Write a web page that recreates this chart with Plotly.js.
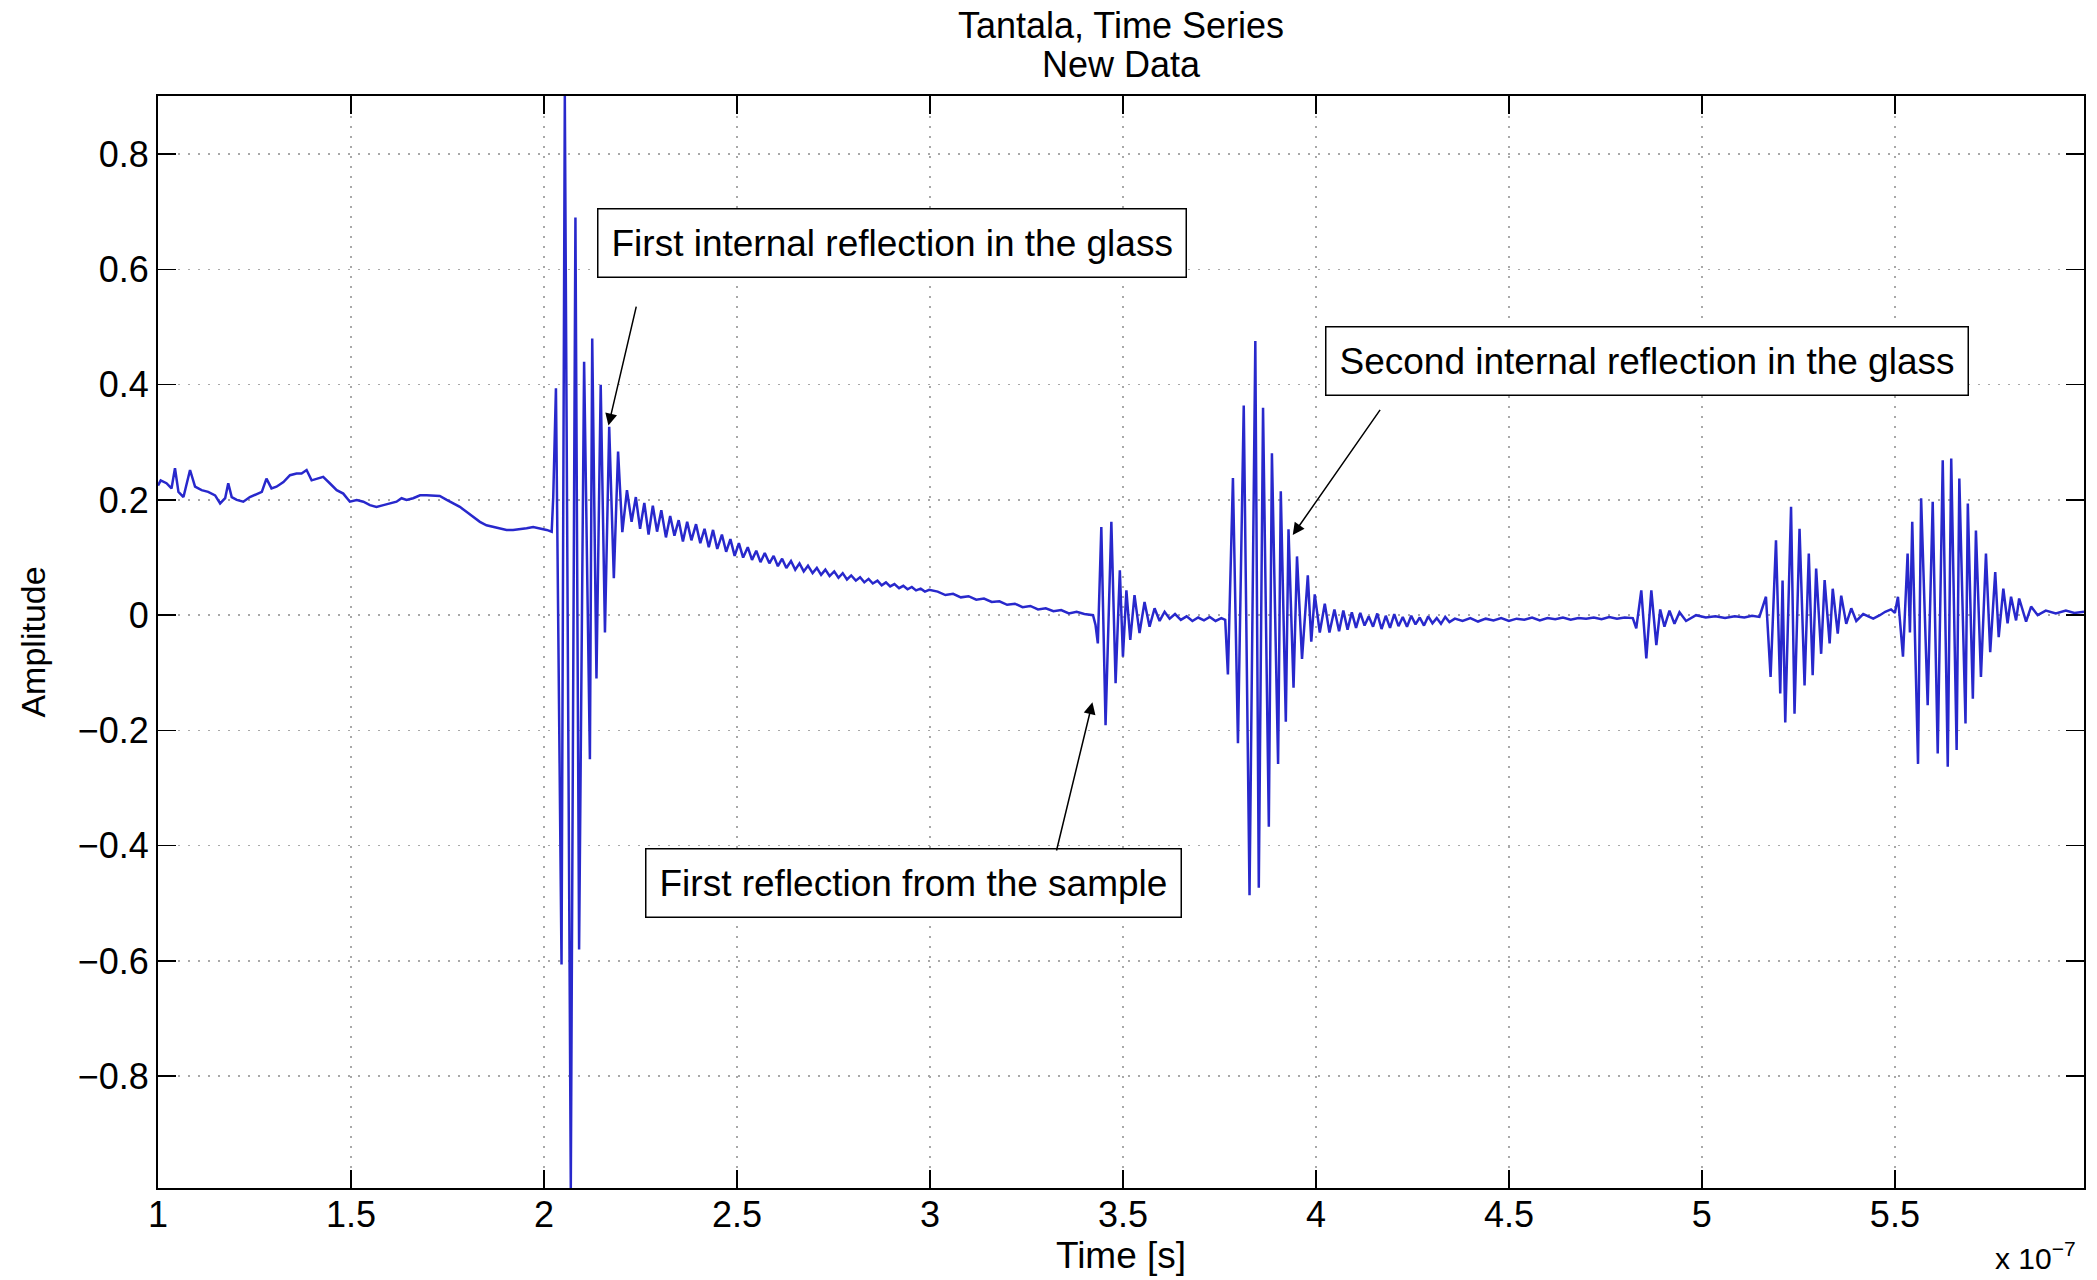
<!DOCTYPE html>
<html><head><meta charset="utf-8">
<script src="https://cdn.plot.ly/plotly-3.0.1.min.js"></script>
<style>html,body{margin:0;padding:0;background:#fff}#chart{width:2097px;height:1280px}</style>
</head><body><div id="chart"></div>
<script>
// time in units of 1e-7 s, amplitude
const driftT = [1.000,1.007,1.022,1.035,1.044,1.053,1.066,1.083,1.096,1.113,1.130,1.148,1.161,1.174,1.182,1.191,1.204,1.221,1.238,1.256,1.269,1.281,1.294,1.307,1.325,1.342,1.359,1.372,1.385,1.398,1.411,1.428,1.445,1.463,1.480,1.497,1.515,1.532,1.549,1.566,1.584,1.601,1.618,1.631,1.644,1.661,1.679,1.696,1.713,1.730,1.748,1.765,1.782,1.800,1.817,1.834,1.851,1.868,1.886,1.903,1.920,1.938,1.955,1.972,1.989,2.007,2.020];
const driftA = [0.225,0.234,0.229,0.220,0.255,0.214,0.205,0.252,0.223,0.217,0.214,0.208,0.194,0.203,0.229,0.205,0.200,0.197,0.205,0.211,0.214,0.237,0.220,0.223,0.231,0.243,0.246,0.246,0.252,0.234,0.237,0.240,0.229,0.217,0.211,0.197,0.200,0.197,0.191,0.188,0.191,0.194,0.197,0.203,0.200,0.203,0.208,0.208,0.208,0.207,0.200,0.194,0.188,0.179,0.171,0.162,0.156,0.153,0.151,0.148,0.148,0.149,0.151,0.153,0.151,0.148,0.145];

const glass1T = [2.024,2.031,2.0455,2.054,2.0695,2.0815,2.091,2.104,2.119,2.125,2.136,2.147,2.158,2.169,2.181,2.192,2.203,2.215,2.227];
const glass1A = [0.205,0.394,-0.606,0.901,-0.994,0.690,-0.580,0.440,-0.250,0.480,-0.110,0.400,-0.030,0.327,0.064,0.284,0.144,0.217,0.162];

const tailT = [2.238,2.249,2.260,2.271,2.282,2.293,2.304,2.316,2.327,2.338,2.349,2.360,2.371,2.382,2.394,2.405,2.416,2.427,2.438,2.449,2.461,2.472,2.483,2.494,2.505,2.516,2.528,2.539,2.550,2.561,2.572,2.584,2.595,2.606,2.617,2.628,2.640,2.651,2.662,2.673,2.684,2.696,2.707,2.718,2.729,2.740,2.752,2.763,2.774,2.785,2.796,2.808,2.819,2.830,2.841,2.852,2.864,2.875,2.886,2.897,2.908,2.920,2.931,2.942,2.953,2.964,2.976,2.987,2.998,3.02,3.04,3.06,3.08,3.10,3.12,3.14,3.16,3.18,3.20,3.22,3.24,3.26,3.28,3.30,3.32,3.34,3.36,3.38,3.40];
const tailA = [0.205,0.150,0.195,0.140,0.190,0.145,0.182,0.135,0.172,0.138,0.165,0.128,0.162,0.130,0.158,0.125,0.150,0.118,0.148,0.115,0.140,0.110,0.132,0.103,0.125,0.100,0.118,0.096,0.112,0.092,0.108,0.090,0.103,0.085,0.098,0.082,0.094,0.079,0.090,0.076,0.086,0.073,0.082,0.070,0.079,0.068,0.076,0.065,0.073,0.062,0.069,0.060,0.066,0.057,0.063,0.055,0.060,0.052,0.057,0.050,0.054,0.047,0.051,0.045,0.049,0.043,0.046,0.041,0.044,0.041,0.035,0.037,0.031,0.033,0.027,0.029,0.023,0.024,0.018,0.020,0.014,0.016,0.010,0.012,0.007,0.009,0.003,0.006,0.002];

const sampleT = [3.4225,3.429,3.435,3.444,3.455,3.470,3.481,3.492,3.500,3.509,3.519,3.530,3.543,3.556,3.569,3.582,3.595,3.608,3.621];
const sampleA = [0.000,-0.017,-0.049,0.153,-0.191,0.162,-0.118,0.078,-0.072,0.043,-0.043,0.035,-0.031,0.023,-0.020,0.012,-0.010,0.006,-0.006];

const gap1T = [3.635,3.650,3.665,3.680,3.695,3.710,3.725,3.740,3.755,3.765];
const gap1A = [0.002,-0.008,-0.002,-0.010,-0.004,-0.009,-0.003,-0.010,-0.005,-0.008];

const glass2T = [3.772,3.785,3.798,3.813,3.828,3.843,3.852,3.863,3.878,3.886,3.902,3.909,3.922,3.929,3.942,3.951,3.964,3.979,3.988,3.997,4.010,4.023,4.035,4.048];
const glass2A = [-0.103,0.238,-0.222,0.364,-0.486,0.476,-0.473,0.360,-0.367,0.281,-0.258,0.215,-0.185,0.149,-0.126,0.102,-0.076,0.069,-0.046,0.036,-0.030,0.020,-0.030,0.010];

const gap2T = [4.060,4.071,4.082,4.093,4.104,4.115,4.126,4.137,4.148,4.159,4.170,4.181,4.192,4.203,4.214,4.225,4.236,4.247,4.258,4.269,4.280,4.291,4.302,4.313,4.324,4.335,4.346,4.36,4.38,4.40,4.42,4.44,4.46,4.48,4.50,4.52,4.54,4.56,4.58,4.60,4.62,4.64,4.66,4.68,4.70,4.72,4.74,4.76,4.78,4.80,4.821];
const gap2A = [-0.028,0.008,-0.025,0.005,-0.022,0.004,-0.018,-0.002,-0.020,0.003,-0.024,-0.001,-0.022,0.002,-0.019,-0.003,-0.020,-0.001,-0.016,-0.004,-0.018,-0.002,-0.014,-0.005,-0.015,-0.003,-0.012,-0.006,-0.010,-0.005,-0.011,-0.006,-0.009,-0.005,-0.010,-0.006,-0.008,-0.004,-0.009,-0.005,-0.007,-0.004,-0.008,-0.005,-0.006,-0.004,-0.007,-0.003,-0.006,-0.004,-0.005];

const echo1T = [4.830,4.843,4.856,4.869,4.882,4.892,4.903,4.916,4.929,4.942,4.959,4.985,5.010,5.035,5.060,5.085,5.110,5.130,5.149];
const echo1A = [-0.023,0.043,-0.075,0.043,-0.052,0.010,-0.020,0.008,-0.015,0.005,-0.010,0.000,-0.004,-0.002,-0.005,-0.002,-0.004,-0.001,-0.003];

const echo2T = [5.166,5.178,5.192,5.203,5.209,5.216,5.231,5.240,5.253,5.266,5.277,5.287,5.296,5.309,5.318,5.331,5.339,5.352,5.361,5.374,5.387,5.400,5.418,5.444,5.461];
const echo2A = [0.032,-0.107,0.130,-0.136,0.060,-0.186,0.188,-0.171,0.150,-0.122,0.107,-0.104,0.081,-0.067,0.061,-0.049,0.046,-0.032,0.034,-0.015,0.012,-0.010,0.002,-0.006,0.000];

const echo3T = [5.475,5.490,5.500,5.508,5.521,5.533,5.539,5.545,5.560,5.568,5.585,5.598,5.611,5.624,5.637,5.646,5.660,5.667,5.683,5.689,5.702,5.710,5.723,5.736,5.747,5.760,5.769,5.781,5.792,5.801,5.814,5.822,5.840,5.853,5.870,5.891,5.917,5.943,5.965,5.990];
const echo3A = [0.006,0.010,0.004,0.032,-0.072,0.107,-0.030,0.162,-0.258,0.203,-0.156,0.197,-0.240,0.269,-0.263,0.272,-0.234,0.237,-0.188,0.194,-0.145,0.147,-0.107,0.107,-0.064,0.075,-0.038,0.046,-0.014,0.032,-0.009,0.029,-0.011,0.015,0.000,0.008,0.003,0.008,0.004,0.006];

const xTickVals = [1,1.5,2,2.5,3,3.5,4,4.5,5,5.5];
const xTickText = ['1','1.5','2','2.5','3','3.5','4','4.5','5','5.5'];
const yTickVals = [-0.8,-0.6,-0.4,-0.2,0,0.2,0.4,0.6,0.8];
const yTickText = ['\u22120.8','\u22120.6','\u22120.4','\u22120.2','0','0.2','0.4','0.6','0.8'];

const T = [].concat(driftT, glass1T, tailT, sampleT, gap1T, glass2T, gap2T, echo1T, echo2T, echo3T);
const A = [].concat(driftA, glass1A, tailA, sampleA, gap1A, glass2A, gap2A, echo1A, echo2A, echo3A);

const FONT = 'Liberation Sans, Arial, Helvetica, sans-serif';

const trace = {
  x: T, y: A, type: 'scatter', mode: 'lines',
  line: {color: '#2828cc', width: 2.5},
  hoverinfo: 'skip'
};

function box(text, x, y) {
  return {text: text, x: x, y: y, xref: 'x', yref: 'y', showarrow: false,
    xanchor: 'center', yanchor: 'middle', bgcolor: '#ffffff',
    bordercolor: '#000000', borderwidth: 1.5, borderpad: 13,
    font: {family: FONT, size: 37, color: '#000'}};
}
function arrow(x0, y0, x1, y1) {
  return {text: '', x: x1, y: y1, ax: x0, ay: y0, xref: 'x', yref: 'y',
    axref: 'x', ayref: 'y', showarrow: true, arrowhead: 2, arrowsize: 1.6,
    arrowwidth: 1.5, arrowcolor: '#000', standoff: 0, startstandoff: 0};
}

const layout = {
  width: 2097, height: 1280,
  paper_bgcolor: '#fff', plot_bgcolor: '#fff',
  margin: {l: 158, r: 13, t: 96, b: 92, pad: 0},
  showlegend: false,
  font: {family: FONT, size: 36, color: '#000'},
  title: {text: 'Tantala, Time Series', font: {family: FONT, size: 36, color: '#000'},
    xref: 'paper', x: 0.5, xanchor: 'center', yref: 'container', y: 0.9805, yanchor: 'middle'},
  xaxis: {
    range: [1, 5.99], tickvals: xTickVals, ticktext: xTickText,
    showline: true, linecolor: '#000', linewidth: 2, mirror: 'ticks',
    ticks: 'inside', ticklen: 18, tickwidth: 1.5, tickcolor: '#000',
    showgrid: true, gridcolor: '#a8a8a8', gridwidth: 1.5, griddash: '2px,8px',
    zeroline: false, automargin: false, ticklabelstandoff: -6,
    tickfont: {family: FONT, size: 36, color: '#000'},
    title: {text: 'Time [s]', font: {family: FONT, size: 37, color: '#000'}, standoff: 2}
  },
  yaxis: {
    range: [-0.994, 0.901], tickvals: yTickVals, ticktext: yTickText,
    showline: true, linecolor: '#000', linewidth: 2, mirror: 'ticks',
    ticks: 'inside', ticklen: 18, tickwidth: 1.5, tickcolor: '#000',
    showgrid: true, gridcolor: '#a8a8a8', gridwidth: 1.5, griddash: '2px,8px',
    zeroline: false, automargin: false,
    tickfont: {family: FONT, size: 36, color: '#000'},
    title: {text: 'Amplitude', font: {family: FONT, size: 34, color: '#000'}, standoff: 22}
  },
  annotations: [
    {text: 'New Data', xref: 'paper', yref: 'paper', x: 0.5, y: 1.0285,
      xanchor: 'center', yanchor: 'middle', showarrow: false,
      font: {family: FONT, size: 36, color: '#000'}},
    box('First internal reflection in the glass', 2.901, 0.646),
    arrow(2.240, 0.538, 2.167, 0.329),
    box('Second internal reflection in the glass', 4.858, 0.442),
    arrow(4.169, 0.359, 3.940, 0.139),
    box('First reflection from the sample', 2.957, -0.464),
    arrow(3.327, -0.411, 3.421, -0.151),
    {text: 'x 10<sup>\u22127</sup>', xref: 'paper', yref: 'paper', x: 0.997, y: -0.062,
      xanchor: 'right', yanchor: 'middle', showarrow: false,
      font: {family: FONT, size: 30, color: '#000'}}
  ]
};

Plotly.newPlot('chart', [trace], layout, {displayModeBar: false, staticPlot: true});
</script></body></html>
